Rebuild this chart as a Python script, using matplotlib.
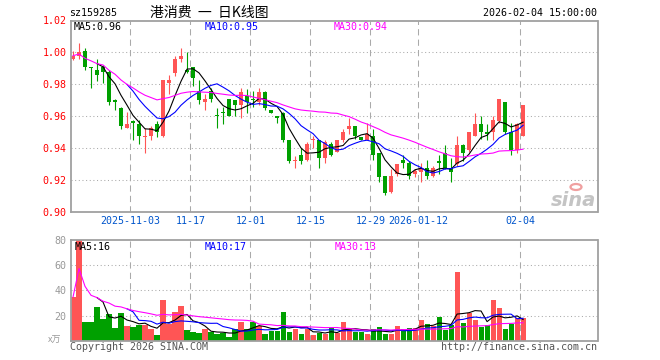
import numpy as np
import pandas as pd
import matplotlib
matplotlib.use('Agg')
import matplotlib.pyplot as plt

# daily K data (index 0 = first trading day shown)
opens = [0.996, 0.998, 1.001, 0.991, 0.989, 0.991, 0.988, 0.970, 0.965, 0.953,
         0.957, 0.955, 0.947, 0.948, 0.955, 0.948, 0.981, 0.987, 0.996, 0.989,
         0.991, 0.976, 0.969, 0.976, 0.961, 0.963, 0.971, 0.970, 0.967, 0.973,
         0.971, 0.969, 0.975, 0.964, 0.960, 0.962, 0.945, 0.932, 0.936, 0.933,
         0.945, 0.945, 0.934, 0.943, 0.938, 0.945, 0.952, 0.954, 0.947, 0.945,
         0.948, 0.937, 0.923, 0.913, 0.924, 0.933, 0.931, 0.924, 0.925, 0.928,
         0.923, 0.932, 0.937, 0.928, 0.930, 0.942, 0.939, 0.948, 0.955, 0.950,
         0.950, 0.957, 0.969, 0.950, 0.939, 0.948]
highs = [1.001, 1.006, 1.003, 0.991, 0.996, 0.992, 0.989, 0.971, 0.966, 0.963,
         0.958, 0.958, 0.953, 0.954, 0.957, 0.983, 0.986, 0.998, 1.003, 1.000,
         0.991, 0.983, 0.974, 0.978, 0.965, 0.966, 0.971, 0.970, 0.978, 0.977,
         0.976, 0.978, 0.976, 0.964, 0.960, 0.963, 0.945, 0.935, 0.940, 0.944,
         0.948, 0.945, 0.945, 0.944, 0.945, 0.952, 0.959, 0.954, 0.947, 0.956,
         0.952, 0.937, 0.923, 0.927, 0.930, 0.936, 0.932, 0.927, 0.931, 0.933,
         0.929, 0.936, 0.942, 0.934, 0.948, 0.943, 0.950, 0.962, 0.960, 0.955,
         0.960, 0.971, 0.969, 0.956, 0.956, 0.967]
lows = [0.995, 0.996, 0.989, 0.978, 0.982, 0.981, 0.967, 0.964, 0.952, 0.953,
        0.945, 0.943, 0.937, 0.945, 0.947, 0.947, 0.974, 0.985, 0.994, 0.987,
        0.979, 0.968, 0.964, 0.969, 0.953, 0.955, 0.960, 0.960, 0.959, 0.962,
        0.966, 0.967, 0.964, 0.962, 0.956, 0.944, 0.931, 0.928, 0.930, 0.932,
        0.940, 0.928, 0.931, 0.935, 0.938, 0.944, 0.949, 0.946, 0.945, 0.945,
        0.933, 0.919, 0.911, 0.912, 0.923, 0.928, 0.921, 0.922, 0.919, 0.921,
        0.922, 0.924, 0.927, 0.919, 0.929, 0.932, 0.938, 0.948, 0.946, 0.945,
        0.945, 0.956, 0.949, 0.936, 0.937, 0.948]
closes = [0.998, 1.000, 0.991, 0.990, 0.986, 0.988, 0.969, 0.969, 0.954, 0.955,
          0.956, 0.948, 0.948, 0.953, 0.950, 0.983, 0.983, 0.996, 0.998, 0.988,
          0.984, 0.970, 0.971, 0.971, 0.960, 0.962, 0.960, 0.967, 0.975, 0.969,
          0.970, 0.975, 0.965, 0.962, 0.959, 0.945, 0.932, 0.933, 0.932, 0.943,
          0.946, 0.934, 0.944, 0.936, 0.945, 0.950, 0.954, 0.948, 0.945, 0.949,
          0.936, 0.922, 0.912, 0.923, 0.930, 0.931, 0.923, 0.926, 0.928, 0.923,
          0.928, 0.931, 0.928, 0.925, 0.942, 0.937, 0.950, 0.955, 0.950, 0.949,
          0.958, 0.971, 0.950, 0.939, 0.955, 0.967]
# volume in 万
vols = [34.7, 80, 14.8, 14.8, 26.8, 17.2, 21.2, 10, 22, 11.7,
        10.9, 12.5, 12.5, 9.3, 4.5, 32.3, 13.2, 22.8, 27.5, 8.5,
        6.9, 6.1, 9.3, 6.9, 5.3, 6.1, 2.9, 9.3, 14.8, 9.3,
        14.8, 11.7, 5.3, 7.7, 7.7, 22.8, 6.9, 9.3, 5.3, 9.3,
        4.5, 6.1, 5.3, 10.3, 6.1, 14.8, 9.5, 7.2, 6.9, 5.0,
        9.3, 10.6, 5.0, 5.0, 11.7, 9.3, 10, 10, 16.4, 13.2,
        11.7, 18.8, 8.2, 12.5, 54.6, 14, 22, 16.4, 10.9, 12.5,
        32.4, 25.7, 9.3, 13.2, 18, 18]

tick_idx = [10, 20, 30, 40, 50, 58, 75]
tick_labels = ['2025-11-03', '11-17', '12-01', '12-15', '12-29', '2026-01-12', '02-04']
price_ticks = [0.90, 0.92, 0.94, 0.96, 0.98, 1.00, 1.02]
vol_ticks = [20, 40, 60, 80]

RED = '#ff5555'
GREEN = '#00a000'
FRAME = '#a0a0a0'
GRID = '#aaaaaa'
MONO = 'DejaVu Sans Mono'
CJK = ['Noto Sans CJK SC', 'DejaVu Sans']
FS = 7.2

W, H = 660, 360


def px(x, y):
    return x / W, 1 - y / H


df = pd.DataFrame({'o': opens, 'h': highs, 'l': lows, 'c': closes, 'v': vols})
x = np.arange(len(df))
up = df.c >= df.o
cols = np.where(up, RED, GREEN)

fig = plt.figure(figsize=(W / 100, H / 100), dpi=100)
ax = fig.add_axes([70.5 / W, 1 - 212.3 / H, 527 / W, 191.8 / H])
axv = fig.add_axes([70.5 / W, 1 - 340.7 / H, 527 / W, 100.7 / H])

for a in (ax, axv):
    a.set_xlim(-0.42, 87.4)
    for s in a.spines.values():
        s.set_color(FRAME)
        s.set_linewidth(1.3)
    for t in tick_idx:
        a.axvline(t - 0.45, color=GRID, lw=0.75, ls=(0, (6, 4)), zorder=0)
    a.set_xticks([])

# price panel
ax.set_ylim(0.90, 1.02)
for p in price_ticks[1:-1]:
    ax.axhline(p, color=GRID, lw=0.75, ls=(0, (1, 2.5)), zorder=0)
ax.vlines(x, df.l, df.h, colors=cols, lw=0.8, zorder=2)
body = np.maximum((df.c - df.o).abs(), 0.0006)
ax.bar(x, body, bottom=np.minimum(df.o, df.c), width=0.78, color=cols, lw=0, zorder=2)
ax.plot(x, df.c.rolling(5).mean(), color='black', lw=0.8, zorder=3)
ax.plot(x, df.c.rolling(10).mean(), color='#0000ff', lw=0.8, zorder=3)
ax.plot(x, df.c.rolling(30, min_periods=1).mean(), color='#ff00ff', lw=0.8, zorder=3)
ax.set_yticks(price_ticks)
ax.set_yticklabels(['%.2f' % p for p in price_ticks], color='red', fontsize=FS, family=MONO)
ax.tick_params(axis='y', length=0, pad=3)
ax.set_xticks([t - 0.45 for t in tick_idx])
ax.set_xticklabels(tick_labels, color='#0055cc', fontsize=FS, family=MONO)
ax.tick_params(axis='x', length=0, pad=2.5)

# volume panel
axv.set_ylim(0, 80)
for v in vol_ticks[:-1]:
    axv.axhline(v, color=GRID, lw=0.75, ls=(0, (1, 2.5)), zorder=0)
axv.bar(x, df.v, width=0.85, color=cols, lw=0, zorder=2)
axv.plot(x, df.v.rolling(5).mean(), color='black', lw=0.8, zorder=3)
axv.plot(x, df.v.rolling(10).mean(), color='#0000ff', lw=0.8, zorder=3)
axv.plot(x, df.v.rolling(30, min_periods=1).mean(), color='#ff00ff', lw=0.8, zorder=3)
axv.set_yticks(vol_ticks)
axv.set_yticklabels([str(v) for v in vol_ticks], color='#999999', fontsize=FS, family=MONO)
axv.tick_params(axis='y', length=0, pad=3)

# header
fig.text(*px(69, 12.5), 'sz159285', ha='left', va='center', fontsize=FS, family=MONO)
fig.text(*px(150, 12.5), '港消费  一  日K线图', ha='left', va='center', fontsize=10, family=CJK)
fig.text(*px(597, 12.5), '2026-02-04 15:00:00', ha='right', va='center', fontsize=FS, family=MONO)

fig.text(*px(74, 27), 'MA5:0.96', ha='left', va='center', fontsize=FS, family=MONO, color='black')
fig.text(*px(205, 27), 'MA10:0.95', ha='left', va='center', fontsize=FS, family=MONO, color='#0000ff')
fig.text(*px(334, 27), 'MA30:0.94', ha='left', va='center', fontsize=FS, family=MONO, color='#ff00ff')

fig.text(*px(75, 247), 'MA5:16', ha='left', va='center', fontsize=FS, family=MONO, color='black')
fig.text(*px(205, 247), 'MA10:17', ha='left', va='center', fontsize=FS, family=MONO, color='#0000ff')
fig.text(*px(335, 247), 'MA30:13', ha='left', va='center', fontsize=FS, family=MONO, color='#ff00ff')

fig.text(*px(48, 340), 'x万', ha='left', va='center', fontsize=6.5, family=CJK, color='#999999')
fig.text(*px(70, 347), 'Copyright 2026 SINA.COM', ha='left', va='center', fontsize=FS, family=MONO, color='#555555')
fig.text(*px(597, 347), 'http://finance.sina.com.cn', ha='right', va='center', fontsize=FS, family=MONO, color='#555555')

# sina watermark
fig.text(*px(596, 201), 'sina', ha='right', va='center', fontsize=14, family='DejaVu Sans',
         style='italic', weight='bold', color='#c4c4c4')
fig.patches.append(plt.Circle(px(576, 187), 5.5 / W, transform=fig.transFigure,
                              fill=False, ec='#f0a0a0', lw=1.6))

fig.savefig('out.png', dpi=100)
